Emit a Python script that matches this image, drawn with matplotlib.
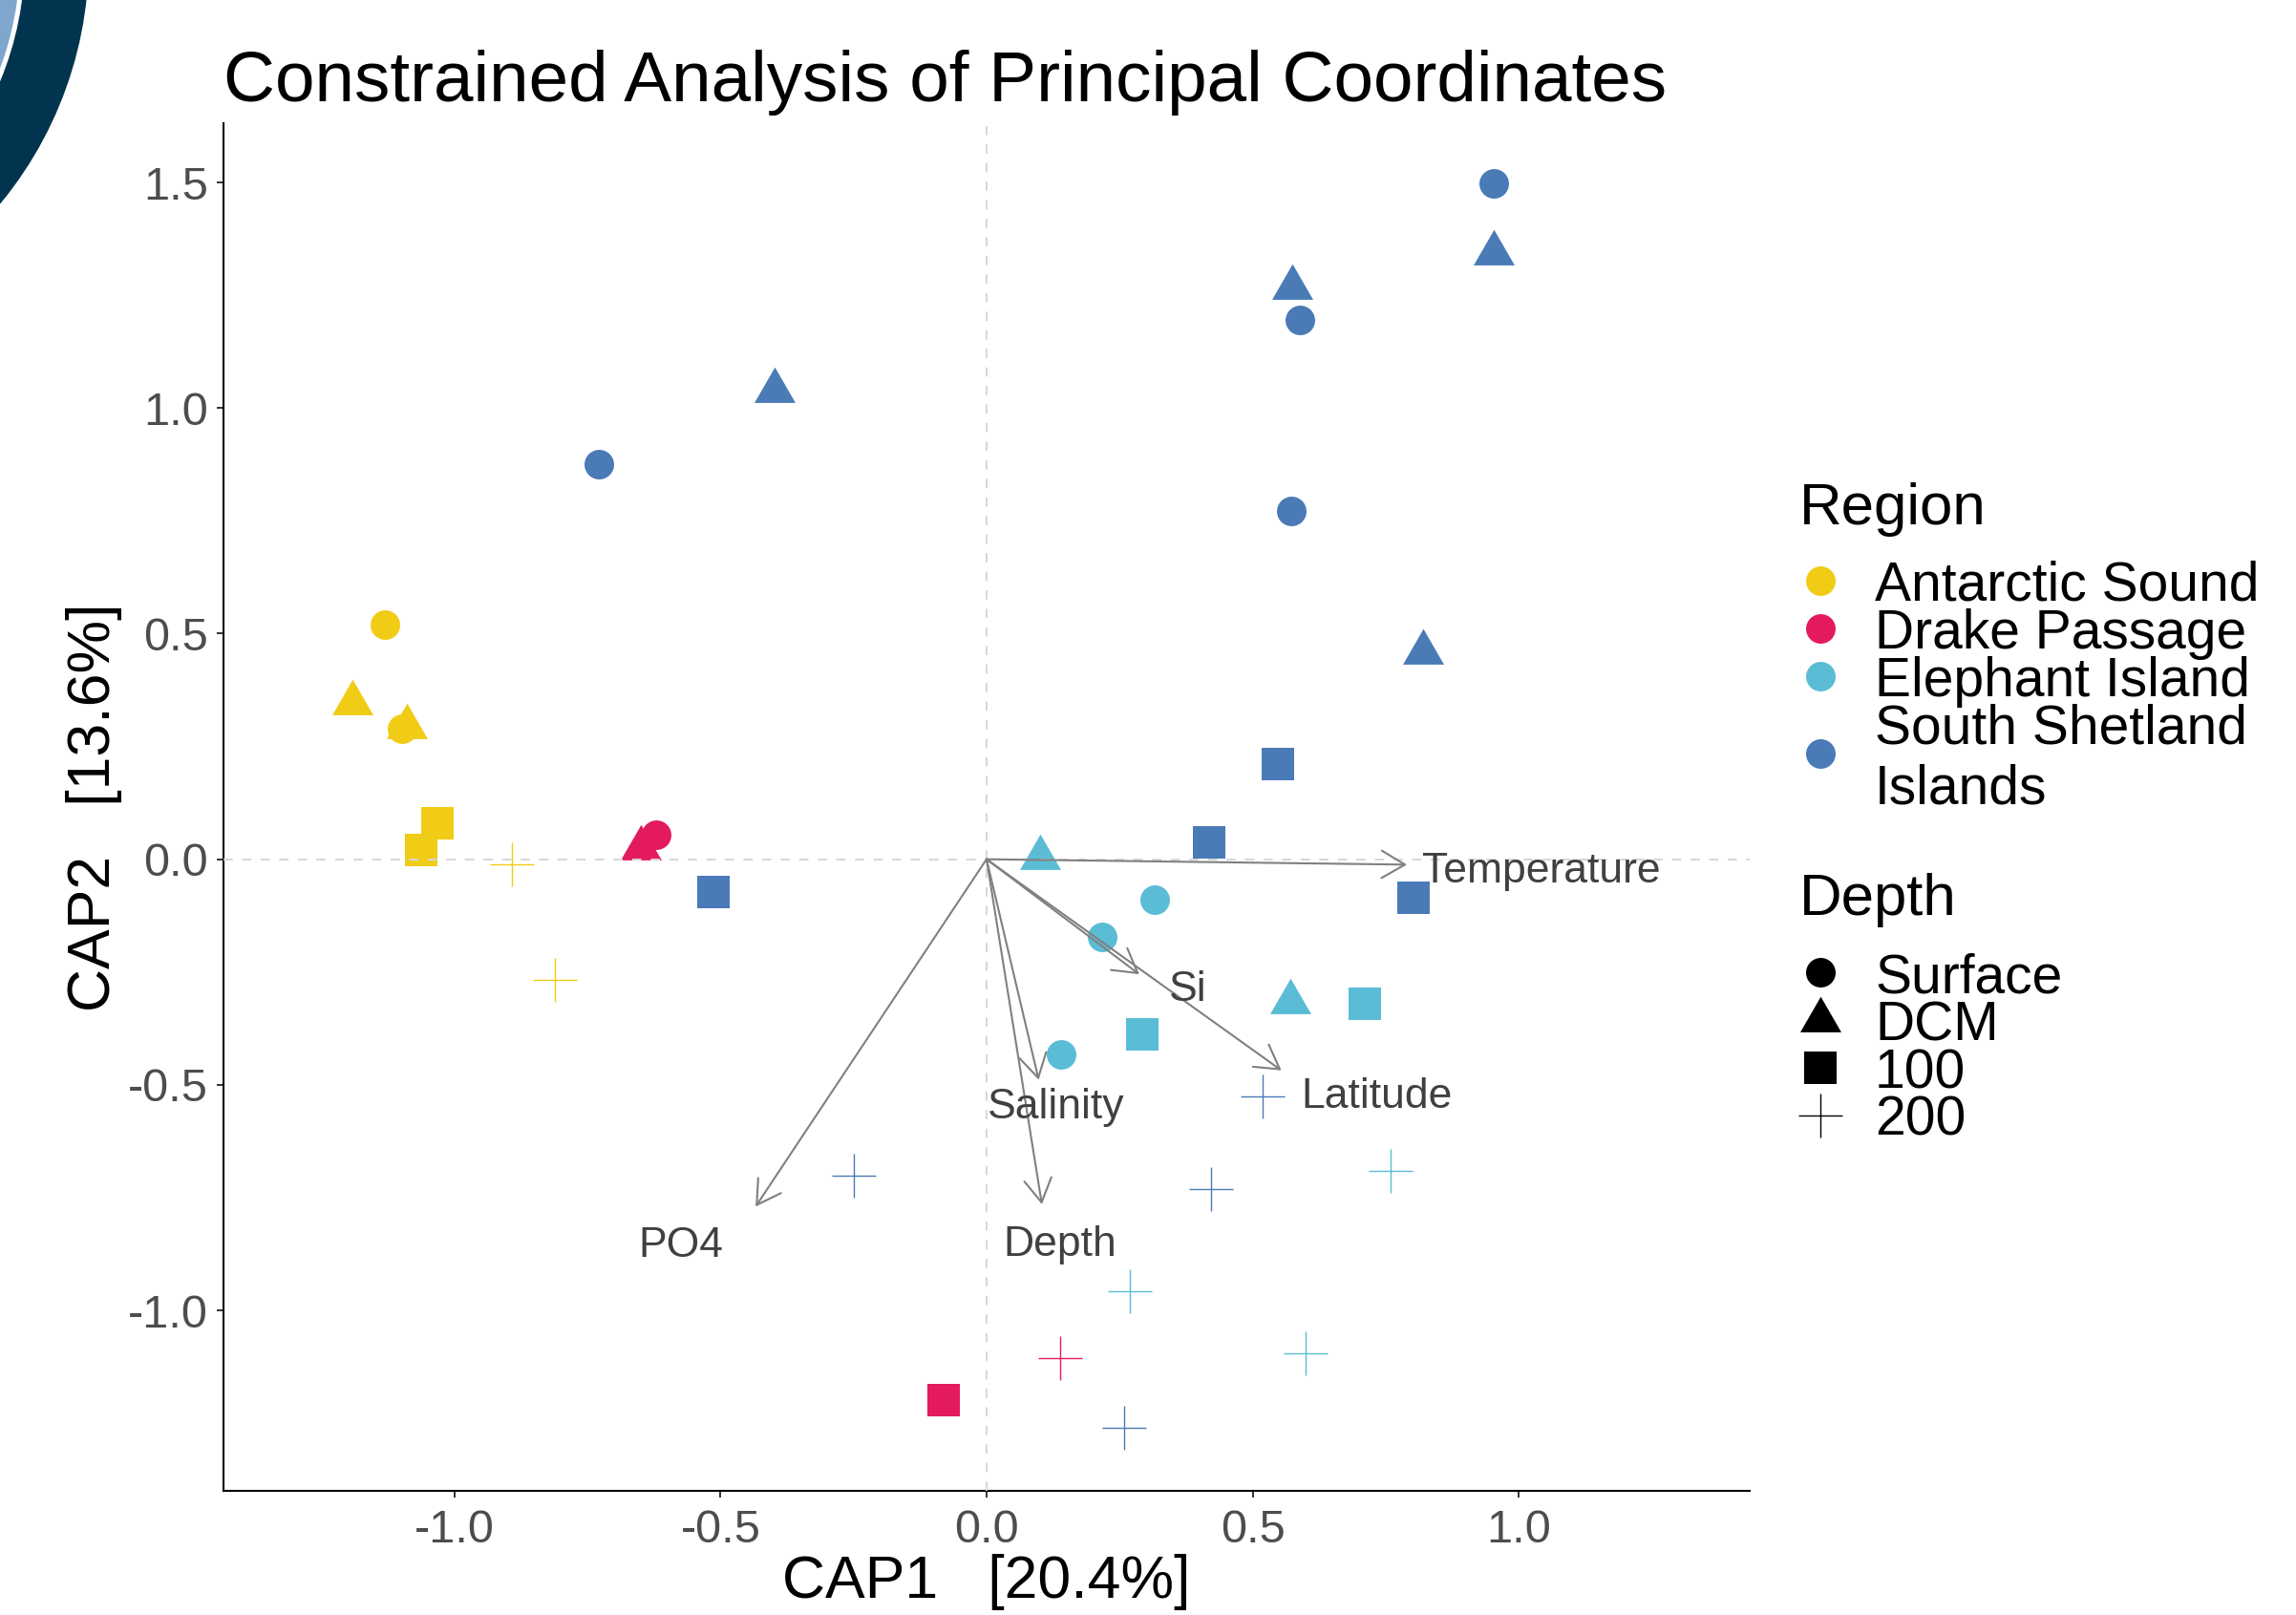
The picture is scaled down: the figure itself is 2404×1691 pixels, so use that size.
import numpy as np
import matplotlib
matplotlib.use("Agg")
import matplotlib.pyplot as plt
from matplotlib.patches import FancyArrowPatch, ArrowStyle, Circle
from matplotlib.ticker import FormatStrFormatter

plt.rcParams['font.family'] = ['Liberation Sans', 'DejaVu Sans']
plt.rcParams['axes.unicode_minus'] = False

# ---------------- data ----------------
regions = ["Antarctic Sound", "Drake Passage", "Elephant Island", "South Shetland Islands"]
region_colors = ["#F0CC16", "#E31A60", "#5BBCD6", "#4A7BB7"]
depths = ["Surface", "DCM", "100", "200"]

sample_region = (["Antarctic Sound"] * 8 + ["Drake Passage"] * 4 +
                 ["Elephant Island"] * 10 + ["South Shetland Islands"] * 16)
sample_depth = ["Surface", "DCM", "DCM", "Surface", "100", "100", "200", "200",
                "DCM", "Surface", "100", "200",
                "DCM", "Surface", "Surface", "Surface", "100", "DCM", "100", "200", "200", "200",
                "Surface", "DCM", "DCM", "Surface", "DCM", "Surface", "Surface", "DCM",
                "100", "100", "100", "100", "200", "200", "200", "200"]
cap1 = [-1.130, -1.191, -1.089, -1.099, -1.031, -1.062, -0.891, -0.811,
        -0.649, -0.620, -0.081, 0.139,
        0.101, 0.316, 0.218, 0.140, 0.292, 0.570, 0.711, 0.269, 0.600, 0.760,
        0.953, 0.953, 0.575, 0.588, -0.398, -0.729, 0.573, 0.821,
        0.547, 0.419, 0.803, -0.513, 0.518, -0.249, 0.421, 0.259]
cap2 = [0.520, 0.346, 0.293, 0.290, 0.080, 0.020, -0.011, -0.268,
        0.025, 0.054, -1.198, -1.105,
        0.003, -0.090, -0.172, -0.433, -0.388, -0.317, -0.321, -0.957, -1.095, -0.691,
        1.497, 1.344, 1.268, 1.195, 1.038, 0.875, 0.772, 0.459,
        0.210, 0.038, -0.086, -0.073, -0.525, -0.701, -0.730, -1.261]

vec_names = ["Temperature", "Si", "Latitude", "Salinity", "Depth", "PO4"]
vec_x = [0.790, 0.287, 0.554, 0.098, 0.104, -0.434]
vec_y = [-0.012, -0.255, -0.468, -0.489, -0.765, -0.770]
lab_x = [1.043, 0.378, 0.734, 0.131, 0.137, -0.574]
lab_y = [-0.027, -0.289, -0.526, -0.549, -0.854, -0.858]

xticks = [-1.0, -0.5, 0.0, 0.5, 1.0]
yticks = [-1.0, -0.5, 0.0, 0.5, 1.0, 1.5]
title = "Constrained Analysis of Principal Coordinates"
xlabel = "CAP1   [20.4%]"
ylabel = "CAP2   [13.6%]"

# ---------------- styles ----------------
tri = [(0.0, 1.0), (-0.8660254, -0.5), (0.8660254, -0.5), (0.0, 1.0)]
marker_map = {"Surface": "o", "DCM": tri, "100": "s", "200": "+"}
size_map = {"Surface": 497, "DCM": 1277, "100": 566, "200": 1145}
col_map = dict(zip(regions, region_colors))

W, H, DPI = 2404, 1691, 100
fig = plt.figure(figsize=(W / DPI, H / DPI), dpi=DPI)

# overlay axes in pixel coordinates (decoration, legend)
lax = fig.add_axes([0, 0, 1, 1], zorder=0)
lax.set_xlim(0, W)
lax.set_ylim(H, 0)
lax.axis("off")
cx, cy = -312, -44.5
lax.add_patch(Circle((cx, cy), 405, color="#02344F", lw=0))
lax.add_patch(Circle((cx, cy), 338, color="white", lw=0))
lax.add_patch(Circle((cx, cy), 333, color="#7FA7CD", lw=0))

# main axes
L, R, T, B = 233.9, 1832.0, 129.2, 1561.0
ax = fig.add_axes([L / W, 1 - B / H, (R - L) / W, (B - T) / H], zorder=1)
ax.set_xlim(-1.434, 1.434)
ax.set_ylim(-1.400, 1.631)
ax.patch.set_visible(False)

for x, y, r, d in zip(cap1, cap2, sample_region, sample_depth):
    if d == "200":
        ax.scatter([x], [y], marker="+", s=size_map[d], color=col_map[r],
                   linewidths=1.0, zorder=2)
    else:
        ax.scatter([x], [y], marker=marker_map[d], s=size_map[d], color=col_map[r],
                   linewidths=0, zorder=2)

ax.axhline(0, color="#D6D6D6", lw=1.4, ls=(0, (5, 5)), zorder=3)
ax.axvline(0, color="#D6D6D6", lw=1.4, ls=(0, (5, 5)), zorder=3)

for name, vx, vy, tx, ty in zip(vec_names, vec_x, vec_y, lab_x, lab_y):
    arr = FancyArrowPatch((0, 0), (vx, vy),
                          arrowstyle=ArrowStyle("->", head_length=17.6, head_width=10.3),
                          mutation_scale=1, lw=1.5, color="#808080",
                          shrinkA=0, shrinkB=0, zorder=4)
    ax.add_patch(arr)
    ax.text(tx, ty, name, fontsize=32, color="#404040", ha="center", va="center", zorder=5)

for s in ["top", "right"]:
    ax.spines[s].set_visible(False)
for s in ["left", "bottom"]:
    ax.spines[s].set_linewidth(1.5)
    ax.spines[s].set_color("black")

ax.set_xticks(xticks)
ax.set_yticks(yticks)
ax.xaxis.set_major_formatter(FormatStrFormatter("%.1f"))
ax.yaxis.set_major_formatter(FormatStrFormatter("%.1f"))
ax.tick_params(axis="both", length=5, width=1.4, color="#333333",
               labelsize=35, labelcolor="#4D4D4D")
ax.tick_params(axis="x", pad=8.5)
ax.tick_params(axis="y", pad=6.5)

ax.set_xlabel(xlabel, fontsize=45, color="black")
ax.xaxis.set_label_coords(0.5, (B - 1673) / (B - T))
ax.xaxis.label.set_verticalalignment("baseline")
ax.set_ylabel(ylabel, fontsize=45, color="black")
ax.yaxis.set_label_coords((115 - L) / (R - L), 0.5)
ax.yaxis.label.set_verticalalignment("baseline")

ax.set_title(title, loc="left", fontsize=53.8, pad=16.7, color="black")

# ---------------- legend (pixel coords) ----------------
leg_mx, leg_tx, leg_title_x = 1906, 1963, 1884
lax.text(leg_title_x, 549, "Region", fontsize=44.5, va="baseline", ha="left")
reg_marker_y = [607.6, 657.9, 707.6, 788.8]
reg_text = [["Antarctic Sound"], ["Drake Passage"], ["Elephant Island"], ["South Shetland", "Islands"]]
reg_base = [[628.8], [679.0], [728.8], [778.6, 841.7]]
for col, my, lines, bases in zip(region_colors, reg_marker_y, reg_text, reg_base):
    lax.scatter([leg_mx], [my], marker="o", s=size_map["Surface"], color=col, linewidths=0)
    for t, b in zip(lines, bases):
        lax.text(leg_tx, b, t, fontsize=41, va="baseline", ha="left")

lax.text(leg_title_x, 957.9, "Depth", fontsize=44.5, va="baseline", ha="left")
dep_marker_y = [1017.8, 1068.0, 1118.0, 1168.0]
dep_base = [1039.0, 1089.0, 1139.0, 1188.8]
for d, my, b in zip(depths, dep_marker_y, dep_base):
    if d == "200":
        lax.scatter([leg_mx], [my], marker="+", s=size_map[d], color="black", linewidths=1.0)
    else:
        lax.scatter([leg_mx], [my], marker=marker_map[d], s=size_map[d], color="black", linewidths=0)
    lax.text(leg_tx, b, d, fontsize=41, va="baseline", ha="left")

fig.savefig("out.png", dpi=DPI)
